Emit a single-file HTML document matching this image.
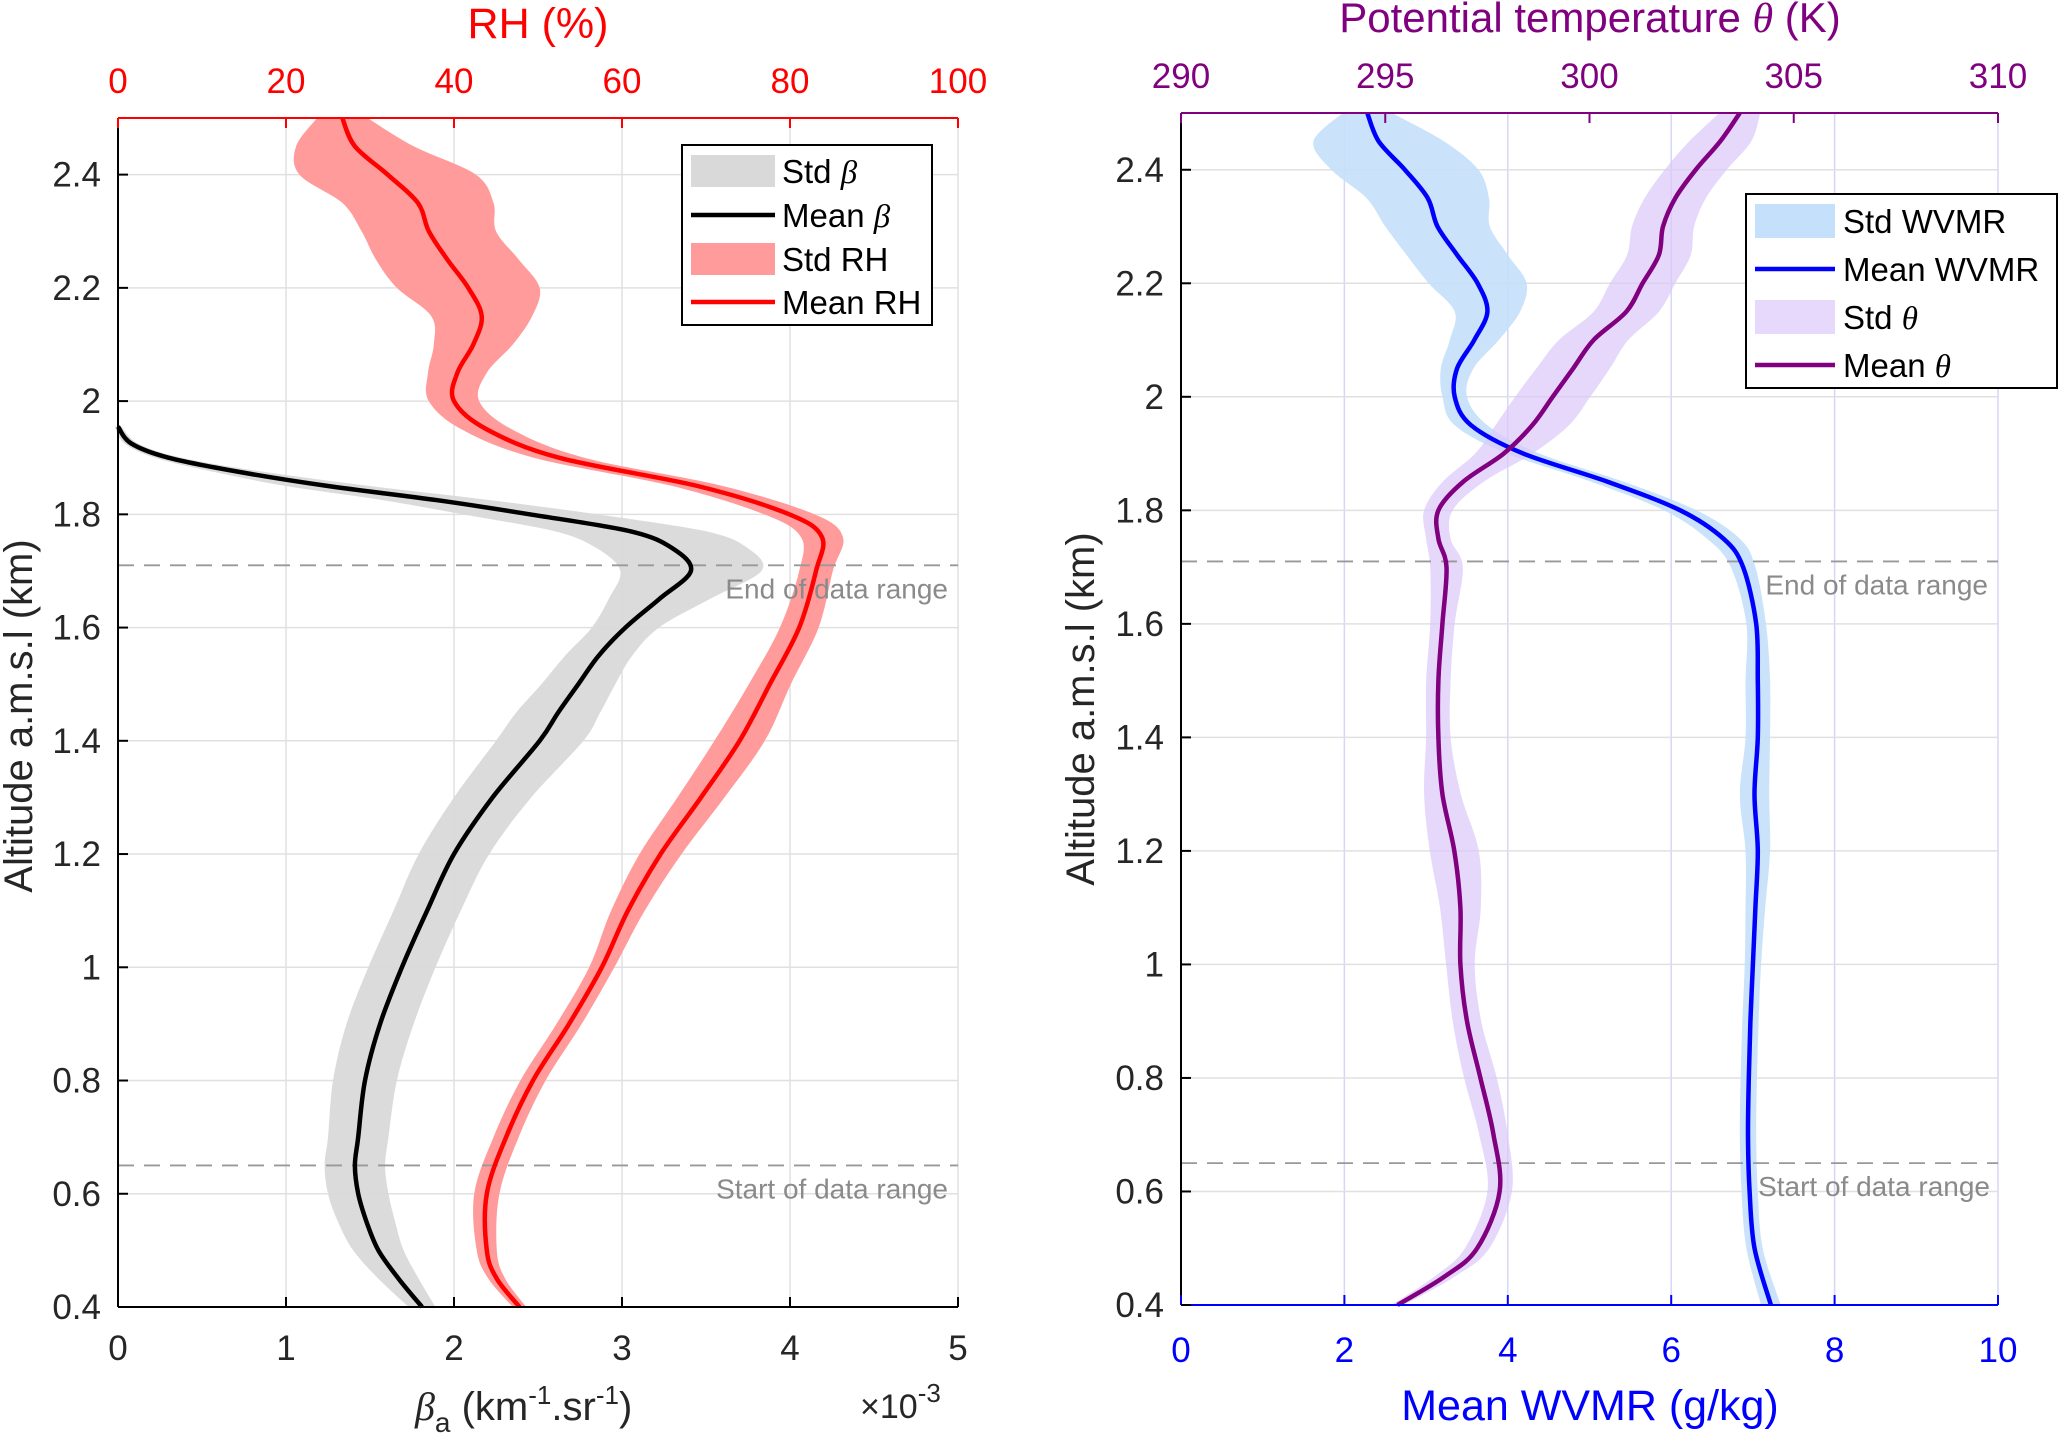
<!DOCTYPE html>
<html><head><meta charset="utf-8">
<style>
html,body{margin:0;padding:0;background:#fff;}
svg{display:block;font-family:"Liberation Sans",Arial,sans-serif;}
</style></head>
<body>
<svg id="fig" width="2060" height="1445" viewBox="0 0 2060 1445" xmlns="http://www.w3.org/2000/svg">
<g id="left"></g>
<g id="right"></g>
</svg>
<script>
// ---------- Left panel data ----------
const betaAlt = [0.4,0.45,0.5,0.55,0.6,0.65,0.7,0.8,0.9,1.0,1.1,1.2,1.3,1.4,1.45,1.5,1.55,1.6,1.65,1.7,1.74,1.77,1.8,1.825,1.85,1.875,1.9,1.925,1.955];
const betaMean = [1.81,1.67,1.55,1.48,1.43,1.41,1.43,1.47,1.56,1.69,1.84,2.0,2.23,2.51,2.62,2.74,2.86,3.02,3.22,3.41,3.3,3.05,2.45,1.9,1.25,0.72,0.3,0.08,0.0];
const betaStd = [0.08,0.12,0.15,0.17,0.18,0.18,0.18,0.19,0.2,0.2,0.2,0.21,0.23,0.26,0.25,0.22,0.2,0.2,0.3,0.42,0.45,0.45,0.4,0.32,0.25,0.15,0.08,0.04,0.02];
const rhAlt = [0.4,0.45,0.5,0.6,0.7,0.8,0.9,1.0,1.1,1.2,1.3,1.4,1.5,1.6,1.7,1.76,1.8,1.85,1.9,1.95,2.0,2.05,2.1,2.15,2.2,2.25,2.3,2.35,2.4,2.45,2.5];
const rhMean = [47.8,45.1,43.9,43.9,46.2,49.4,53.7,57.6,60.7,64.6,69.4,74.0,77.6,81.1,83.1,83.8,79.9,69.0,52.5,43.9,40.0,40.4,42.3,43.3,41.7,39.2,37.0,35.7,32.1,28.2,26.7];
const rhStd = [0.8,1.0,1.2,1.5,1.5,1.5,1.5,1.5,2.0,2.5,2.8,3.0,2.5,2.3,2.0,2.5,3.0,3.0,3.0,3.0,3.0,3.5,4.7,6.0,8.5,8.5,8.0,9.0,10.5,7.0,3.0];
const betaTicks = [0,1,2,3,4,5];
const rhTicks = [0,20,40,60,80,100];
const altTicks = [0.4,0.6,0.8,1,1.2,1.4,1.6,1.8,2,2.2,2.4];
const altTickLabels = ["0.4","0.6","0.8","1","1.2","1.4","1.6","1.8","2","2.2","2.4"];
const dataRange = [0.65,1.71];
// ---------- Right panel data ----------
const wvAlt = [0.4,0.5,0.6,0.7,0.8,0.9,1.0,1.1,1.2,1.3,1.4,1.5,1.6,1.7,1.75,1.8,1.85,1.9,1.95,2.0,2.05,2.1,2.15,2.2,2.25,2.3,2.35,2.4,2.45,2.5];
const wvMean = [7.22,7.02,6.96,6.94,6.95,6.97,7.0,7.03,7.06,7.02,7.06,7.06,7.04,6.88,6.64,6.11,5.23,4.19,3.55,3.35,3.38,3.59,3.75,3.63,3.38,3.14,3.02,2.74,2.42,2.28];
const wvStd = [0.12,0.1,0.1,0.1,0.1,0.1,0.1,0.12,0.15,0.18,0.15,0.15,0.12,0.15,0.2,0.2,0.2,0.2,0.2,0.15,0.2,0.3,0.4,0.6,0.62,0.64,0.75,0.9,0.8,0.3];
const thAlt = [0.4,0.45,0.5,0.6,0.7,0.8,0.9,1.0,1.1,1.2,1.3,1.4,1.5,1.6,1.7,1.75,1.8,1.85,1.9,1.95,2.0,2.05,2.1,2.15,2.2,2.25,2.3,2.35,2.4,2.45,2.5];
const thMean = [295.3,296.45,297.25,297.8,297.65,297.33,297.0,296.84,296.84,296.69,296.4,296.3,296.3,296.4,296.5,296.3,296.3,296.9,297.9,298.6,299.1,299.6,300.1,300.9,301.3,301.7,301.8,302.1,302.6,303.2,303.68];
const thStd = [0.15,0.25,0.3,0.3,0.35,0.4,0.35,0.35,0.5,0.6,0.45,0.3,0.3,0.3,0.4,0.3,0.35,0.5,0.7,0.9,0.92,0.9,0.85,0.8,0.8,0.78,0.76,0.75,0.76,0.76,0.5];
const wvTicks = [0,2,4,6,8,10];
const thTicks = [290,295,300,305,310];

const NS = "http://www.w3.org/2000/svg";
function mk(parent, tag, attrs, text){
  const e = document.createElementNS(NS, tag);
  for (const k in attrs) e.setAttribute(k, attrs[k]);
  if (text !== undefined) e.textContent = text;
  parent.appendChild(e);
  return e;
}
function smooth(pts){
  if (pts.length < 2) return "";
  let d = "M" + pts[0][0].toFixed(1) + "," + pts[0][1].toFixed(1);
  for (let i = 0; i < pts.length - 1; i++){
    const p0 = pts[Math.max(0,i-1)], p1 = pts[i], p2 = pts[i+1], p3 = pts[Math.min(pts.length-1,i+2)];
    const c1 = [p1[0]+(p2[0]-p0[0])/6, p1[1]+(p2[1]-p0[1])/6];
    const c2 = [p2[0]-(p3[0]-p1[0])/6, p2[1]-(p3[1]-p1[1])/6];
    d += "C"+c1[0].toFixed(1)+","+c1[1].toFixed(1)+" "+c2[0].toFixed(1)+","+c2[1].toFixed(1)+" "+p2[0].toFixed(1)+","+p2[1].toFixed(1);
  }
  return d;
}
function bandPath(alts, mean, sd, xf, yf){
  const lo = alts.map((a,i)=>[xf(mean[i]-sd[i]), yf(a)]);
  const hi = alts.map((a,i)=>[xf(mean[i]+sd[i]), yf(a)]).reverse();
  return smooth(lo) + smooth(hi).replace(/^M/,"L") + "Z";
}
function linePath(alts, mean, xf, yf){
  return smooth(alts.map((a,i)=>[xf(mean[i]), yf(a)]));
}

// ================= LEFT PANEL =================
(function(){
  const g = document.getElementById("left");
  const X0=118, X1=958, Y0=118, Y1=1307;
  const yA = a => Y1 - (a-0.4)/(2.1)*(Y1-Y0);
  const xB = b => X0 + b/5*(X1-X0);
  const xR = r => X0 + r/100*(X1-X0);
  let e;
  betaTicks.forEach(t=>{
    e = mk(g,"line",{x1:xB(t),x2:xB(t),y1:Y0,y2:Y1,stroke:"#e0e0e0","stroke-width":1.5});
    
    
  });
  altTicks.forEach(t=>{
    e = mk(g,"line",{x1:X0,x2:X1,y1:yA(t),y2:yA(t),stroke:"#e0e0e0","stroke-width":1.5});
    
    
  });
  e = mk(g,"path",{d:bandPath(rhAlt,rhMean,rhStd,xR,yA),fill:"#ff9b9b"});
  
  
  e = mk(g,"path",{d:bandPath(betaAlt,betaMean,betaStd,xB,yA),fill:"#d9d9d9","fill-opacity":0.95});
  
  
  dataRange.forEach(a=>{
    e = mk(g,"line",{x1:X0,x2:X1,y1:yA(a),y2:yA(a),stroke:"#999","stroke-width":1.8,"stroke-dasharray":"16 10"});
    
    
  });
  e = mk(g,"path",{d:linePath(rhAlt,rhMean,xR,yA),fill:"none",stroke:"#ff0000","stroke-width":4.5});
  
  
  e = mk(g,"path",{d:linePath(betaAlt,betaMean,xB,yA),fill:"none",stroke:"#000","stroke-width":4.5});
  
  
  e = mk(g,"text",{x:X1-10,y:yA(1.71)+33,"text-anchor":"end","font-size":28,fill:"#8a8a8a"},"End of data range");
  
  
  e = mk(g,"text",{x:X1-10,y:yA(0.65)+33,"text-anchor":"end","font-size":28,fill:"#8a8a8a"},"Start of data range");
  
  
  e = mk(g,"line",{x1:X0,x2:X1,y1:Y1,y2:Y1,stroke:"#000","stroke-width":2});
  
  
  e = mk(g,"line",{x1:X0,x2:X0,y1:Y0,y2:Y1,stroke:"#000","stroke-width":2});
  
  
  e = mk(g,"line",{x1:X0,x2:X1,y1:Y0,y2:Y0,stroke:"#ff0000","stroke-width":2});
  
  
  betaTicks.forEach(t=>{
    mk(g,"line",{x1:xB(t),x2:xB(t),y1:Y1,y2:Y1-10,stroke:"#000","stroke-width":2});
    e = mk(g,"text",{x:xB(t),y:1360,"text-anchor":"middle","font-size":35,fill:"#262626"},String(t));
    
    
  });
  rhTicks.forEach(t=>{
    mk(g,"line",{x1:xR(t),x2:xR(t),y1:Y0,y2:Y0+10,stroke:"#ff0000","stroke-width":2});
    e = mk(g,"text",{x:xR(t),y:93,"text-anchor":"middle","font-size":35,fill:"#ff0000"},String(t));
    
    
  });
  altTicks.forEach((t,i)=>{
    mk(g,"line",{x1:X0,x2:X0+10,y1:yA(t),y2:yA(t),stroke:"#000","stroke-width":2});
    e = mk(g,"text",{x:101,y:yA(t)+12,"text-anchor":"end","font-size":35,fill:"#262626"},altTickLabels[i]);
    
    
  });
})();

// ================= RIGHT PANEL =================
(function(){
  const g = document.getElementById("right");
  const X0=1181, X1=1998, Y0=113, Y1=1305;
  const yA = a => Y1 - (a-0.4)/(2.1)*(Y1-Y0);
  const xW = w => X0 + w/10*(X1-X0);
  const xT = t => X0 + (t-290)/20*(X1-X0);
  let e;
  wvTicks.forEach(t=>{
    e = mk(g,"line",{x1:xW(t),x2:xW(t),y1:Y0,y2:Y1,stroke:"#d6d6f7","stroke-width":1.5});
    
    
  });
  altTicks.forEach(t=>{
    e = mk(g,"line",{x1:X0,x2:X1,y1:yA(t),y2:yA(t),stroke:"#e0e0e0","stroke-width":1.5});
    
    
  });
  e = mk(g,"path",{d:bandPath(wvAlt,wvMean,wvStd,xW,yA),fill:"#c4e0fa","fill-opacity":0.9});
  
  
  e = mk(g,"path",{d:bandPath(thAlt,thMean,thStd,xT,yA),fill:"#dcc8fa","fill-opacity":0.7});
  
  
  dataRange.forEach(a=>{
    e = mk(g,"line",{x1:X0,x2:X1,y1:yA(a),y2:yA(a),stroke:"#999","stroke-width":1.8,"stroke-dasharray":"16 10"});
    
    
  });
  e = mk(g,"path",{d:linePath(wvAlt,wvMean,xW,yA),fill:"none",stroke:"#0000ff","stroke-width":4.5});
  
  
  e = mk(g,"path",{d:linePath(thAlt,thMean,xT,yA),fill:"none",stroke:"#800080","stroke-width":4.5});
  
  
  e = mk(g,"text",{x:X1-10,y:yA(1.71)+33,"text-anchor":"end","font-size":28,fill:"#8a8a8a"},"End of data range");
  
  
  e = mk(g,"text",{x:X1-8,y:yA(0.65)+33,"text-anchor":"end","font-size":28,fill:"#8a8a8a"},"Start of data range");
  
  
  e = mk(g,"line",{x1:X0,x2:X1,y1:Y1,y2:Y1,stroke:"#0000ff","stroke-width":2});
  
  
  e = mk(g,"line",{x1:X0,x2:X0,y1:Y0,y2:Y1,stroke:"#000","stroke-width":2});
  
  
  e = mk(g,"line",{x1:X0,x2:X1,y1:Y0,y2:Y0,stroke:"#800080","stroke-width":2});
  
  
  wvTicks.forEach(t=>{
    mk(g,"line",{x1:xW(t),x2:xW(t),y1:Y1,y2:Y1-10,stroke:"#0000ff","stroke-width":2});
    e = mk(g,"text",{x:xW(t),y:1362,"text-anchor":"middle","font-size":35,fill:"#0000ff"},String(t));
    
    
  });
  thTicks.forEach(t=>{
    mk(g,"line",{x1:xT(t),x2:xT(t),y1:Y0,y2:Y0+10,stroke:"#800080","stroke-width":2});
    e = mk(g,"text",{x:xT(t),y:88,"text-anchor":"middle","font-size":35,fill:"#800080"},String(t));
    
    
  });
  altTicks.forEach((t,i)=>{
    mk(g,"line",{x1:X0,x2:X0+10,y1:yA(t),y2:yA(t),stroke:"#000","stroke-width":2});
    e = mk(g,"text",{x:1164,y:yA(t)+12,"text-anchor":"end","font-size":35,fill:"#262626"},altTickLabels[i]);
    
    
  });
})();
</script>
<svg width="2060" height="1445" style="position:absolute;left:0;top:0;font-family:'Liberation Sans',Arial,sans-serif">
  <text x="538" y="38" text-anchor="middle" font-size="43" fill="#ff0000">RH (%)</text>
  <text x="1590" y="32" text-anchor="middle" font-size="42" fill="#800080">Potential temperature <tspan font-family="'Liberation Serif',serif" font-style="italic">θ</tspan> (K)</text>
  <text transform="translate(32,716) rotate(-90)" text-anchor="middle" font-size="40" fill="#262626">Altitude a.m.s.l (km)</text>
  <text transform="translate(1094,709) rotate(-90)" text-anchor="middle" font-size="40" fill="#262626">Altitude a.m.s.l (km)</text>
  <text x="415" y="1420" font-size="40" fill="#262626"><tspan font-family="'Liberation Serif',serif" font-style="italic">β</tspan><tspan font-size="28" dy="12">a</tspan><tspan dy="-12"> (km</tspan><tspan font-size="26" dy="-16">-1</tspan><tspan dy="16">.sr</tspan><tspan font-size="26" dy="-16">-1</tspan><tspan dy="16">)</tspan></text>
  <text x="860" y="1418" font-size="34" fill="#262626">×10<tspan font-size="26" dy="-16">-3</tspan></text>
  <text x="1590" y="1420" text-anchor="middle" font-size="43" fill="#0000ff">Mean WVMR (g/kg)</text>

  <g>
    <rect x="682" y="145" width="250" height="180" fill="#fff" stroke="#000" stroke-width="2"/>
    <rect x="691" y="155" width="84" height="32" fill="#d9d9d9"/>
    <text x="782" y="183" font-size="33" fill="#000">Std <tspan font-family="'Liberation Serif',serif" font-style="italic">β</tspan></text>
    <line x1="691" x2="775" y1="215" y2="215" stroke="#000" stroke-width="4.5"/>
    <text x="782" y="227" font-size="33" fill="#000">Mean <tspan font-family="'Liberation Serif',serif" font-style="italic">β</tspan></text>
    <rect x="691" y="243" width="84" height="32" fill="#ff9b9b"/>
    <text x="782" y="271" font-size="33" fill="#000">Std RH</text>
    <line x1="691" x2="775" y1="302" y2="302" stroke="#ff0000" stroke-width="4.5"/>
    <text x="782" y="314" font-size="33" fill="#000">Mean RH</text>
  </g>
  <g>
    <rect x="1746" y="194" width="311" height="194" fill="#fff" stroke="#000" stroke-width="2"/>
    <rect x="1755" y="204" width="80" height="34" fill="#c4e0fa"/>
    <text x="1843" y="233" font-size="33" fill="#000">Std WVMR</text>
    <line x1="1755" x2="1835" y1="269" y2="269" stroke="#0000ff" stroke-width="4.5"/>
    <text x="1843" y="281" font-size="33" fill="#000">Mean WVMR</text>
    <rect x="1755" y="300" width="80" height="34" fill="#e6d9fb"/>
    <text x="1843" y="329" font-size="33" fill="#000">Std <tspan font-family="'Liberation Serif',serif" font-style="italic">θ</tspan></text>
    <line x1="1755" x2="1835" y1="365" y2="365" stroke="#800080" stroke-width="4.5"/>
    <text x="1843" y="377" font-size="33" fill="#000">Mean <tspan font-family="'Liberation Serif',serif" font-style="italic">θ</tspan></text>
  </g>
</svg>
</body></html>
